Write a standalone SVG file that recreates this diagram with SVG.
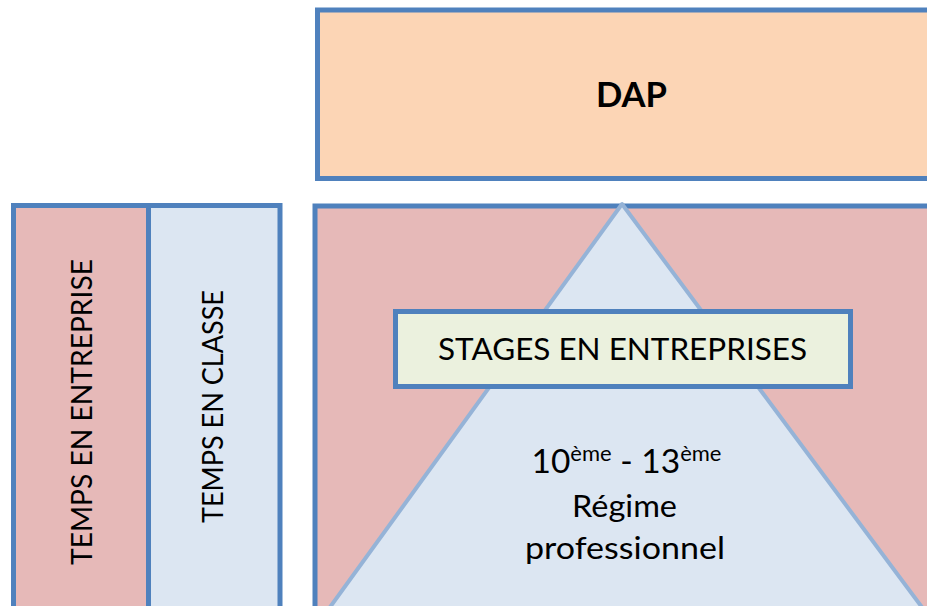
<svg xmlns="http://www.w3.org/2000/svg" width="927" height="606" viewBox="0 0 927 606">
<style>
.box{stroke:#4f81bd;stroke-width:5}
.pink{fill:#e6b9b8}
.blue{fill:#dce6f2}
.t{font-family:Lato,"Open Sans","Liberation Sans",sans-serif;fill:#000}
</style>
<rect width="927" height="606" fill="#ffffff"/>
<g id="dap">
<rect class="box" x="317.5" y="10" width="640" height="168.5" fill="#fcd5b5"/>
<text class="t" x="631.5" y="107.3" font-size="34" font-weight="bold" text-anchor="middle" textLength="71" lengthAdjust="spacingAndGlyphs">DAP</text>
</g>
<g id="temps-entreprise">
<rect class="box pink" x="13.5" y="205.5" width="135" height="420"/>
<text class="t" transform="translate(92,412) rotate(-90)" x="0" y="0" font-size="28" text-anchor="middle" textLength="306" lengthAdjust="spacingAndGlyphs">TEMPS EN ENTREPRISE</text>
</g>
<g id="temps-classe">
<rect class="box blue" x="148.5" y="205.5" width="131.5" height="420"/>
<text class="t" transform="translate(223,406.5) rotate(-90)" x="0" y="0" font-size="28" text-anchor="middle" textLength="233" lengthAdjust="spacingAndGlyphs">TEMPS EN CLASSE</text>
</g>
<g id="regime">
<rect class="box pink" x="315" y="206" width="640" height="420"/>
<polygon points="622,204 326.5,612 925.5,612" fill="#dce6f2" stroke="#95b3d7" stroke-width="4" stroke-linejoin="round"/>
<text class="t" x="531.5" y="473" font-size="32" textLength="190" lengthAdjust="spacingAndGlyphs">10<tspan font-size="21" dy="-12">ème</tspan><tspan dy="12"> - 13</tspan><tspan font-size="21" dy="-12">ème</tspan></text>
<text class="t" x="624.5" y="517" font-size="31" text-anchor="middle" textLength="105" lengthAdjust="spacingAndGlyphs">Régime</text>
<text class="t" x="625" y="559" font-size="31" text-anchor="middle" textLength="200" lengthAdjust="spacingAndGlyphs">professionnel</text>
</g>
<g id="stages">
<rect class="box" x="395.5" y="311.5" width="455" height="75" fill="#ebf1de"/>
<text class="t" x="622.5" y="360" font-size="31" text-anchor="middle" textLength="369" lengthAdjust="spacingAndGlyphs">STAGES EN ENTREPRISES</text>
</g>
<g id="connectors"/>
</svg>
